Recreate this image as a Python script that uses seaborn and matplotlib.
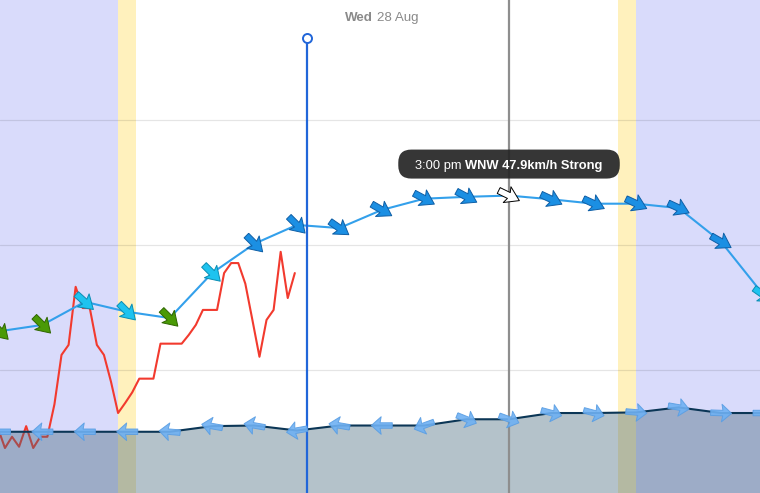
import numpy as np
import pandas as pd
import matplotlib
matplotlib.use("Agg")
import matplotlib.pyplot as plt
import matplotlib.transforms as mtransforms
from matplotlib.patches import FancyBboxPatch
import seaborn as sns

# ---------------- data ----------------
forecast_times = ["03:00", "04:00", "05:00", "06:00", "07:00", "08:00", "09:00", "10:00",
                  "11:00", "12:00", "13:00", "14:00", "15:00", "16:00", "17:00", "18:00",
                  "19:00", "20:00", "21:00"]
wind_speed = [26.2, 27.2, 30.9, 29.3, 28.3, 35.5, 40.2, 43.2, 42.7, 45.6,
              47.4, 47.7, 47.9, 47.3, 46.6, 46.6, 45.9, 40.5, 32.0]
wind_dir = [315, 315, 312, 315, 315, 315, 315, 315, 305, 300,
            298, 298, 296, 295, 295, 295, 295, 300, 305]

second_speed = [10.1, 10.1, 10.1, 10.1, 10.1, 11.0, 11.1, 10.3, 11.1, 11.1,
                11.1, 12.1, 12.1, 13.1, 13.1, 13.2, 14.0, 13.1, 13.1]
second_dir = [90, 90, 90, 90, 95, 100, 100, 80, 100, 90,
              70, 292, 290, 285, 285, 275, 280, 272, 270]

obs_start = "02:57"
obs_step_min = 10
obs_speed = [10.7, 7.5, 9.3, 7.7, 11.0, 7.5, 9.3, 9.3, 14.5, 22.4,
             24.0, 33.3, 29.9, 29.9, 24.0, 22.4, 18.1, 13.1, 14.7, 16.4,
             18.6, 18.6, 18.6, 24.2, 24.2, 24.2, 24.2, 25.6, 27.2, 29.6,
             29.6, 29.6, 35.5, 37.1, 37.1, 33.8, 28.0, 22.1, 28.0, 29.6,
             38.9, 31.5, 35.5]

night_end, dawn_end = "05:47", "06:12"
dusk_start, night_start = "17:34", "18:00"
view_start, view_end = "03:00", "20:55"
now_time = "10:14"
hover_time = "15:00"
hover_time_label = "3:00 pm"
hover_dir_label = "WNW"
hover_desc = "Strong"
day_label_bold, day_label = "Wed", "28 Aug"
grid_levels = [20, 40, 60]
y_range = (0.3, 79.2)


def hours(s):
    h, m = s.split(":")
    return int(h) + int(m) / 60.0


fx = np.array([hours(t) for t in forecast_times])
obs_x = hours(obs_start) + np.arange(len(obs_speed)) * obs_step_min / 60.0

df_wind = pd.DataFrame({"t": fx, "speed": wind_speed, "dir": wind_dir})
df_second = pd.DataFrame({"t": fx, "speed": second_speed, "dir": second_dir})
df_obs = pd.DataFrame({"t": obs_x, "speed": obs_speed})

# ---------------- style ----------------
sns.set_style("white")
plt.rcParams["font.family"] = ["Liberation Sans", "DejaVu Sans"]

fig = plt.figure(figsize=(7.6, 4.93), dpi=100)
ax = fig.add_axes([0, 0, 1, 1])
ax.set_xlim(hours(view_start), hours(view_end))
ax.set_ylim(*y_range)
ax.axis("off")

NIGHT = "#d9dbfb"
DAWN = "#fff1bd"
x0, x1 = ax.get_xlim()
ax.axvspan(x0, hours(night_end), color=NIGHT, lw=0, zorder=0)
ax.axvspan(hours(night_end), hours(dawn_end), color=DAWN, lw=0, zorder=0)
ax.axvspan(hours(dusk_start), hours(night_start), color=DAWN, lw=0, zorder=0)
ax.axvspan(hours(night_start), x1 + 1, color=NIGHT, lw=0, zorder=0)

for g in grid_levels:
    ax.axhline(g, color="black", alpha=0.1, lw=0.9, zorder=1)

# observed wind (red)
sns.lineplot(data=df_obs, x="t", y="speed", ax=ax, color="#f23a2e", lw=1.5,
             zorder=3, legend=False)

# second (lower) series with fill
ax.fill_between(df_second["t"], 0, df_second["speed"], color="#44677b", alpha=0.4,
                lw=0, zorder=4)
sns.lineplot(data=df_second, x="t", y="speed", ax=ax, color="#0b3656", lw=1.5,
             zorder=5, legend=False)

# forecast wind (blue)
sns.lineplot(data=df_wind, x="t", y="speed", ax=ax, color="#33a0eb", lw=1.5,
             zorder=5, legend=False)

# vertical marker lines
now_x = hours(now_time)
top_frac = 1 - 38 / 493.0
ax.axvline(now_x, ymin=0, ymax=top_frac, color="#2166d9", lw=1.6, zorder=6)
blend = mtransforms.blended_transform_factory(ax.transData, ax.transAxes)
ax.plot([now_x], [top_frac], transform=blend, marker="o", ms=6.5, mfc="white",
        mec="#2166d9", mew=1.4, zorder=7, clip_on=False)
hover_x = hours(hover_time)
ax.axvline(hover_x, color="#8e8e8e", lw=1.6, zorder=6)


def beaufort_colors(v):
    if v < 28.5:
        return "#4a9a06", "#2f6600"
    if v < 38.5:
        return "#1ec3ef", "#0b8db3"
    return "#1b8fe3", "#0f5fa6"


def headings(dirs, length):
    ang = np.deg2rad(90 - (np.asarray(dirs) + 180))
    return length * np.cos(ang), length * np.sin(ang)


# forecast arrows
fc, ec = [], []
for t, v in zip(df_wind["t"], df_wind["speed"]):
    f, e = beaufort_colors(v)
    if abs(t - hover_x) < 1e-6:
        f, e = "white", "black"
    fc.append(f)
    ec.append(e)
U, V = headings(df_wind["dir"], 23)
ax.quiver(df_wind["t"], df_wind["speed"], U, V, color=fc, edgecolor=ec, linewidth=0.7,
          units="dots", scale_units="dots", scale=1, angles="uv", pivot="middle",
          width=6.5, headwidth=2.7, headlength=2.1, headaxislength=1.8, zorder=8)

# lower arrows
U2, V2 = headings(df_second["dir"], 21)
ax.quiver(df_second["t"], df_second["speed"], U2, V2, color="#6fb1f3", alpha=0.9,
          edgecolor="#5a9ee3", linewidth=0.7,
          units="dots", scale_units="dots", scale=1, angles="uv", pivot="middle",
          width=5.5, headwidth=3.2, headlength=1.8, headaxislength=1.6, zorder=8)

# ---------------- texts ----------------
fig.canvas.draw()
rend = fig.canvas.get_renderer()
ident = mtransforms.IdentityTransform()


def text_width(s, **kw):
    t = fig.text(0, 0, s, transform=ident, **kw)
    w = t.get_window_extent(rend).width
    t.remove()
    return w


# day label at noon
fs_title = 9.6
noon_px = ax.transData.transform((12.0, 0))[0]
wb = text_width(day_label_bold, fontsize=fs_title, fontweight="bold")
wn = text_width(day_label, fontsize=fs_title)
sp = text_width("a a", fontsize=fs_title) - text_width("aa", fontsize=fs_title)
tot = wb + sp + wn
ty = 493 - 21
fig.text(noon_px - tot / 2, ty, day_label_bold, transform=ident, fontsize=fs_title,
         fontweight="bold", color="#8a8a8a", va="baseline", ha="left")
fig.text(noon_px - tot / 2 + wb + sp, ty, day_label, transform=ident, fontsize=fs_title,
         color="#8a8a8a", va="baseline", ha="left")

# tooltip
hi = forecast_times.index(hover_time)
hpx, hpy = ax.transData.transform((hover_x, wind_speed[hi]))
fs_tip = 9.3
part1 = hover_time_label
part2 = f"{hover_dir_label} {wind_speed[hi]:.1f}km/h {hover_desc}"
w1 = text_width(part1, fontsize=fs_tip)
w2 = text_width(part2, fontsize=fs_tip, fontweight="bold")
sp2 = text_width("a a", fontsize=fs_tip) - text_width("aa", fontsize=fs_tip)
tw = w1 + sp2 + w2
box_h = 29
box_w = tw + 34
bx = hpx - box_w / 2
by = hpy + 17
box = FancyBboxPatch((bx, by), box_w, box_h, boxstyle="round,pad=0,rounding_size=13",
                     transform=ident, facecolor="#262626", edgecolor="none", alpha=0.93,
                     zorder=20)
fig.patches.append(box)
cy = by + box_h / 2
fig.text(hpx - tw / 2, cy, part1, transform=ident, fontsize=fs_tip, color="white",
         va="center_baseline", ha="left", zorder=21)
fig.text(hpx - tw / 2 + w1 + sp2, cy, part2, transform=ident, fontsize=fs_tip,
         color="white", fontweight="bold", va="center_baseline", ha="left", zorder=21)

fig.savefig("out.png", dpi=100)
